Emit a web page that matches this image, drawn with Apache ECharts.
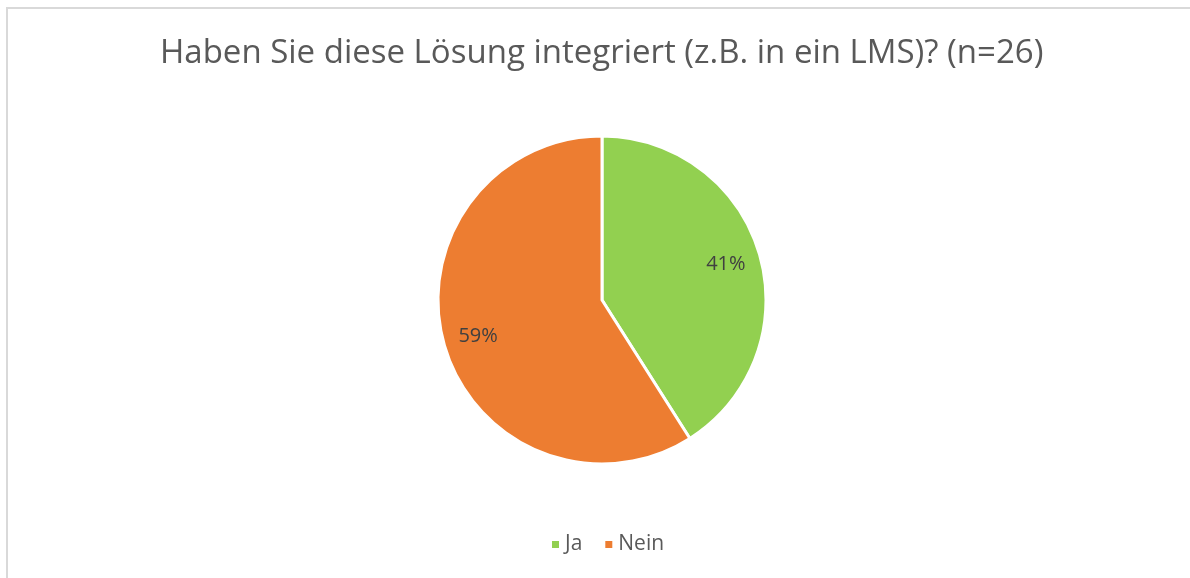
<!DOCTYPE html>
<html>
<head>
<meta charset="utf-8">
<script src="https://cdn.jsdelivr.net/npm/echarts@6/dist/echarts.min.js"></script>
<style>
  html, body { margin: 0; padding: 0; background: #fff; }
  #chart { width: 1190px; height: 578px; }
  .frame { position: absolute; left: 6px; top: 7px; width: 1190px; height: 600px; border: 2px solid #d9d9d9; box-sizing: border-box; pointer-events: none; }
</style>
</head>
<body>
<div id="chart"></div>
<div class="frame"></div>
<script>
var titleText = 'Haben Sie diese Lösung integriert (z.B. in ein LMS)? (n=26)'
var categories = ['Ja', 'Nein']
var shares = [41, 59]
var colors = ['#92D050', '#ED7D31']

var pieData = categories.map(function (name, i) {
  return { name: name, value: shares[i] }
})

var chart = echarts.init(document.getElementById('chart'))

var option = {
  animation: false,
  title: {
    text: titleText,
    left: 155,
    top: 32,
    textStyle: {
      fontFamily: 'Open Sans',
      fontSize: 33,
      fontWeight: 'normal',
      color: '#595959'
    }
  },
  color: colors,
  legend: {
    data: categories,
    bottom: 18,
    left: 545,
    icon: 'rect',
    itemWidth: 9,
    itemHeight: 9,
    itemGap: 21,
    textStyle: {
      fontFamily: 'Open Sans',
      fontSize: 21,
      color: '#595959'
    }
  },
  series: [
    {
      type: 'pie',
      center: [602, 300],
      radius: [0, 164],
      startAngle: 90,
      clockwise: true,
      silent: true,
      data: pieData,
      itemStyle: { borderColor: '#fff', borderWidth: 3 },
      label: { show: false },
      labelLine: { show: false }
    },
    {
      // ring only used to place the percent labels further out
      type: 'pie',
      center: [602, 300],
      radius: [88, 164],
      startAngle: 90,
      clockwise: true,
      silent: true,
      data: pieData,
      itemStyle: { color: 'rgba(0,0,0,0)' },
      label: {
        show: true,
        position: 'inside',
        formatter: '{c}%',
        fontFamily: 'Open Sans',
        fontSize: 20,
        color: '#404040'
      },
      labelLine: { show: false }
    }
  ]
}

chart.setOption(option)
</script>
</body>
</html>
